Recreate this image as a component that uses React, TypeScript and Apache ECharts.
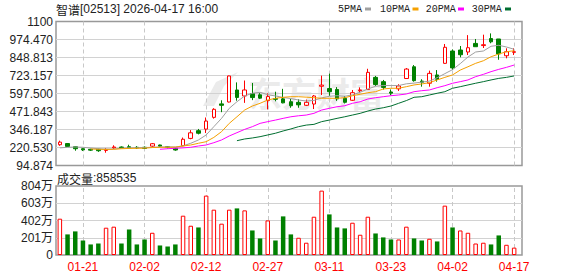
import { useEffect, useRef } from 'react';
import * as echarts from 'echarts';

const dates = ['2026-01-16','2026-01-19','2026-01-20','2026-01-21','2026-01-22','2026-01-23','2026-01-26','2026-01-27','2026-01-28','2026-01-29','2026-01-30','2026-02-02','2026-02-03','2026-02-04','2026-02-05','2026-02-06','2026-02-09','2026-02-10','2026-02-11','2026-02-12','2026-02-13','2026-02-16','2026-02-20','2026-02-23','2026-02-24','2026-02-25','2026-02-26','2026-02-27','2026-03-02','2026-03-03','2026-03-04','2026-03-05','2026-03-06','2026-03-09','2026-03-10','2026-03-11','2026-03-12','2026-03-13','2026-03-16','2026-03-17','2026-03-18','2026-03-19','2026-03-20','2026-03-23','2026-03-24','2026-03-25','2026-03-26','2026-03-27','2026-03-30','2026-03-31','2026-04-01','2026-04-02','2026-04-08','2026-04-09','2026-04-10','2026-04-13','2026-04-14','2026-04-15','2026-04-16','2026-04-17'];

const opens = [240,248,226,212,208,208,200,218,224,226,222,222,230,238,226,215,233,284,338,349,431,525,538,622,580,597,588,548,562,560,540,536,515,524,648,632,626,564,550,617,625,710,680,608,630,702,784,684,669,727,808,894,901,887,947,932,981,978,861,885];
const closes = [258,228,212,204,202,198,207,224,220,218,217,214,247,230,222,203,278,323,320,405,487,515,720,570,622,569,565,576,557,532,512,518,536,580,656,610,560,536,603,622,745,660,640,600,650,768,687,676,738,697,920,776,868,917,924,938,958,874,889,889];
const lows = [232,224,198,196,196,190,184,210,215,214,210,210,224,226,214,198,230,278,312,322,422,467,535,547,532,551,560,486,543,529,498,498,510,489,587,581,546,528,545,600,622,650,625,585,615,700,680,645,645,680,805,762,850,866,924,915,948,833,843,866];
const highs = [268,252,228,216,212,212,216,236,228,240,230,228,252,240,230,218,290,342,350,430,495,550,722,675,688,671,600,598,610,630,560,557,555,587,722,736,642,580,622,640,770,720,692,626,662,775,796,697,757,761,943,905,929,1005,978,1008,1017,978,913,913];

const ma5 = [218,222,224,222,217,212,210,210,215,218,219,220,222,224,225,224,232,250,273,308,366,424,494,540,580,599,606,589,580,570,562,552,545,549,567,578,582,578,588,606,629,648,653,653,653,665,670,677,684,708,736,764,806,852,887,894,927,934,922,906];
const ma10 = [null,null,null,null,210,208,207,208,212,214,215,216,220,222,222,223,231,238,250,261,291,331,389,435,482,510,529,552,564,571,575,575,572,568,564,564,564,568,582,592,603,610,629,634,634,645,657,664,673,692,710,727,761,784,808,826,854,873,889,896];
const ma20 = [null,null,null,null,null,null,null,null,null,null,null,null,null,208,212,215,218,222,231,238,254,273,301,324,347,366,389,401,412,424,435,442,447,459,482,494,505,512,529,540,559,568,575,582,587,594,610,617,622,638,652,669,680,692,715,731,750,766,780,796];
const ma30 = [null,null,null,null,null,null,null,null,null,null,null,null,null,null,null,null,null,null,null,null,null,null,null,268,280,287,296,308,320,336,350,366,377,382,401,412,424,435,447,459,475,489,498,510,529,548,571,575,587,599,610,634,645,657,669,680,692,703,710,720];

// volume in shares
const volumes = [4230000,2400000,2750000,1690000,1230000,1340000,3180000,3300000,1340000,2980000,1230000,1810000,2590000,1110000,990000,1230000,4580000,3410000,3210000,6920000,5280000,3650000,5280000,5430000,5200000,2860000,1930000,4030000,1690000,4500000,2400000,2010000,1430000,4460000,7500000,4730000,3210000,3100000,3760000,2360000,4460000,2510000,2050000,1810000,1810000,3300000,1930000,1690000,1890000,1580000,5750000,3210000,2860000,2590000,1340000,1430000,1230000,2280000,1190000,858535];
// 1 = up day (red hollow), 0 = down day (green)
const volUp = [1,0,0,0,0,0,1,1,0,0,0,0,1,0,0,0,1,1,0,1,1,1,1,0,1,0,0,1,0,0,0,1,1,1,1,0,0,0,1,1,1,0,0,0,1,1,0,0,1,0,1,0,1,1,1,1,0,0,1,1];

const priceTickLabels = ['94.874','220.530','346.187','471.843','597.500','723.157','848.813','974.470','1100'];
const volTickLabels = ['0','201万','402万','603万','804万'];
const maNames = ['5PMA','10PMA','20PMA','30PMA'];

const yMin = 94.874;
const yMax = 1100;
const yStep = (yMax - yMin) / 8;
const vMax = 8040000;
const vStep = vMax / 4;

const UP = '#ff0000';
const DOWN = '#008000';
const MA_COLORS = ['#a0a0a0', '#f5a000', '#ff00ff', '#006e30'];
const FONT = "'Liberation Sans', 'Noto Sans CJK SC', sans-serif";
const CJK = "'Noto Sans CJK SC', sans-serif";

export default function App() {
  const ref = useRef<HTMLDivElement>(null);
  useEffect(() => {
    if (!ref.current) return;
    const chart = echarts.init(ref.current, undefined, { renderer: 'svg' });
    const cats = dates.map((d) => d.slice(5));
    const labelIdx = cats.map((_, i) => i).filter((i) => (i - 3) % 8 === 0);
    const showLabel = (i: number) => (i - 3) % 8 === 0;
    const vline = {
      symbol: ['none', 'none'],
      silent: true,
      z: 1,
      animation: false,
      label: { show: false },
      lineStyle: { type: [4, 3], color: '#c8c8c8', width: 1 },
      data: labelIdx.map((i) => ({ xAxis: i })),
    };
    const L = 56;
    const mainTop = 21.5, mainH = 144;
    const volTop = 186, volH = 69;
    const bgW = 466, dataW = 462;

    const legendText = [338, 380, 425.7, 471.7];
    const legendMark = [365, 412.5, 458, 505];
    const graphic: any[] = [
      {
        type: 'text', x: L, y: 9, z: 10,
        style: {
          text: '{c|智谱}{a|[02513] 2026-04-17 16:00}',
          rich: {
            c: { fontFamily: CJK, fontSize: 12, fill: '#222' },
            a: { fontFamily: "'Liberation Sans', sans-serif", fontSize: 12, fill: '#222' },
          },
          verticalAlign: 'middle',
        },
      },
      {
        type: 'text', x: 57, y: 178, z: 10,
        style: {
          text: '{c|成交量}{a|:' + volumes[volumes.length - 1] + '}',
          rich: {
            c: { fontFamily: CJK, fontSize: 12, fill: '#222' },
            a: { fontFamily: "'Liberation Sans', sans-serif", fontSize: 12, fill: '#222' },
          },
          verticalAlign: 'middle',
        },
      },
      {
        type: 'text', x: 248, y: 92, z: 0,
        style: {
          text: '东方财富', fontFamily: CJK, fontSize: 34, fontWeight: 'bold',
          fill: '#ebebeb', verticalAlign: 'middle',
        },
      },
      {
        type: 'polygon', z: 0,
        shape: { points: [[203, 106], [216, 82], [238, 72], [224, 86], [214, 106]] },
        style: { fill: '#ebebeb' },
      },
    ];
    maNames.forEach((n, k) => {
      graphic.push({
        type: 'text', x: legendText[k], y: 9, z: 10,
        style: { text: n, fontFamily: "'Liberation Mono', monospace", fontSize: 10, fill: '#222', verticalAlign: 'middle' },
      });
      graphic.push({
        type: 'rect', z: 10,
        shape: { x: legendMark[k], y: 7.5, width: 6, height: 3 },
        style: { fill: MA_COLORS[k] },
      });
    });

    const hiddenY = (min: number, max: number, grid: number) => ({
      type: 'value', gridIndex: grid, min, max, show: false,
      splitLine: { show: false },
    });

    chart.setOption({
      animation: false,
      backgroundColor: '#ffffff',
      graphic,
      grid: [
        { left: L, top: mainTop, width: bgW, height: mainH, show: true, borderColor: '#999', borderWidth: 1.5, backgroundColor: 'transparent' },
        { left: L, top: mainTop, width: dataW, height: mainH },
        { left: L, top: volTop, width: bgW, height: volH, show: true, borderColor: '#999', borderWidth: 1.5, backgroundColor: 'transparent' },
        { left: L, top: volTop, width: dataW, height: volH },
      ],
      xAxis: [
        { type: 'value', gridIndex: 0, min: 0, max: 1, show: false },
        {
          type: 'category', gridIndex: 1, data: cats, boundaryGap: true,
          axisLine: { show: false }, axisTick: { show: false }, axisLabel: { show: false }, splitLine: { show: false },
        },
        { type: 'value', gridIndex: 2, min: 0, max: 1, show: false },
        {
          type: 'category', gridIndex: 3, data: cats, boundaryGap: true,
          axisLine: { show: false }, axisTick: { show: false }, splitLine: { show: false },
          axisLabel: {
            show: true, interval: (i: number) => showLabel(i), color: '#ff0000',
            fontSize: 12, fontFamily: "'Liberation Sans', sans-serif", margin: 6,
          },
        },
      ],
      yAxis: [
        {
          type: 'value', gridIndex: 0, min: yMin, max: yMax, interval: yStep,
          axisLine: { show: false }, axisTick: { show: false },
          axisLabel: {
            color: '#222', fontSize: 12, fontFamily: "'Liberation Sans', sans-serif", margin: 3,
            formatter: (v: number) => priceTickLabels[Math.round((v - yMin) / yStep)] ?? '',
          },
          splitLine: { show: true, showMinLine: false, showMaxLine: false, lineStyle: { color: '#d2d2d2', width: 1 } },
        },
        hiddenY(yMin, yMax, 1),
        {
          type: 'value', gridIndex: 2, min: 0, max: vMax, interval: vStep,
          axisLine: { show: false }, axisTick: { show: false },
          axisLabel: {
            color: '#222', fontSize: 12, fontFamily: FONT, margin: 3,
            formatter: (v: number) => volTickLabels[Math.round(v / vStep)] ?? '',
          },
          splitLine: { show: true, showMinLine: false, showMaxLine: false, lineStyle: { color: '#d2d2d2', width: 1 } },
        },
        hiddenY(0, vMax, 3),
      ],
      series: [
        {
          type: 'candlestick', name: 'K', xAxisIndex: 1, yAxisIndex: 1, barWidth: 4, z: 3,
          data: opens.map((o, i) => [o, closes[i], lows[i], highs[i]]),
          itemStyle: { color: '#ffffff', color0: DOWN, borderColor: UP, borderColor0: DOWN, borderWidth: 1 },
          markLine: vline,
        },
        ...[ma5, ma10, ma20, ma30].map((d, k) => ({
          type: 'line', name: maNames[k], xAxisIndex: 1, yAxisIndex: 1, data: d,
          showSymbol: false, symbol: 'none', connectNulls: false, z: 4,
          lineStyle: { width: 1, color: MA_COLORS[k] }, itemStyle: { color: MA_COLORS[k] },
        })),
        {
          type: 'bar', name: 'VOL', xAxisIndex: 3, yAxisIndex: 3, barWidth: 4.5, z: 3,
          data: volumes.map((v, i) => ({
            value: v,
            itemStyle: volUp[i]
              ? { color: '#ffffff', borderColor: UP, borderWidth: 1 }
              : { color: DOWN, borderColor: DOWN, borderWidth: 0 },
          })),
          markLine: vline,
        },
      ],
    });
    return () => chart.dispose();
  }, []);
  return (
    <div
      ref={ref}
      style={{ position: 'fixed', left: 0, top: 0, width: 578, height: 276, background: '#fff' }}
    />
  );
}
